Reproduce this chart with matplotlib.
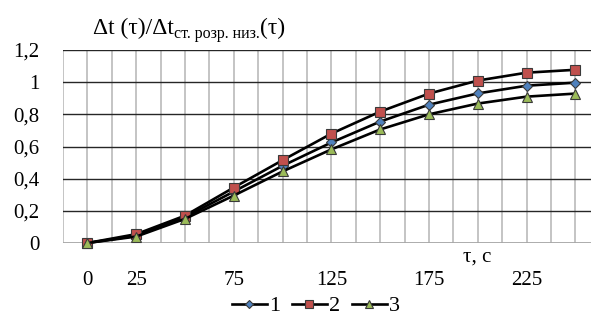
import matplotlib
matplotlib.use("Agg")
import matplotlib.pyplot as plt
from matplotlib.lines import Line2D
import numpy as np

tau = [0, 25, 50, 75, 100, 125, 150, 175, 200, 225, 250]
s1 = [0, 0.045, 0.16, 0.32, 0.48, 0.625, 0.755, 0.86, 0.93, 0.978, 0.997]
s2 = [0, 0.055, 0.17, 0.345, 0.515, 0.68, 0.817, 0.929, 1.01, 1.059, 1.077]
s3 = [0, 0.04, 0.15, 0.295, 0.445, 0.582, 0.706, 0.80, 0.867, 0.91, 0.929]
series_names = ["1", "2", "3"]
xtick_vals = [0, 25, 75, 125, 175, 225]
ytick_vals = [0, 0.2, 0.4, 0.6, 0.8, 1.0, 1.2]
ytick_labels = ["0", "0,2", "0,4", "0,6", "0,8", "1", "1,2"]

plt.rcParams['font.family'] = ['Liberation Serif', 'DejaVu Serif']

fig = plt.figure(figsize=(5.91, 3.2), dpi=100)
ax = fig.add_axes([63/591, (320-243)/320, 1 - 63/591, (243-50)/320])
ax.set_xlim(-12.5, 258)
ax.set_ylim(0, 1.2)

for xv in np.arange(-12.5, 260, 12.5):
    ax.axvline(xv, color='#BFBFBF', lw=1.3, zorder=1)
for yv in ytick_vals[1:]:
    ax.axhline(yv, color='#262626', lw=1.0, zorder=1)
ax.axhline(0, color='#A6A6A6', lw=1.3, zorder=1)

for s in ax.spines.values():
    s.set_visible(False)

styles = [
    dict(marker='D', mfc='#4F81BD', ms=5),
    dict(marker='s', mfc='#C0504D', ms=7),
    dict(marker='^', mfc='#9BBB59', ms=6.5),
]
for data, st in zip([s1, s2, s3], styles):
    ax.plot(tau, data, color='black', lw=1.9, marker=st['marker'], mfc=st['mfc'],
            mec='#3a3a3a', mew=0.8, ms=st['ms'], zorder=3, clip_on=False)

ax.set_xticks(xtick_vals)
ax.set_xticklabels([str(v) for v in xtick_vals], fontsize=15)
ax.set_yticks(ytick_vals)
ax.set_yticklabels(ytick_labels, fontsize=15)
ax.tick_params(axis='x', length=0, pad=20)
ax.tick_params(axis='y', length=0, pad=17)

t1 = fig.text(93/591, 1 - 28/320, "Δt (τ)/Δt", ha='left', va='center', fontsize=17)
fig.canvas.draw()
bb = t1.get_window_extent()
sub = fig.text(bb.x1 / 591, 1 - 34/320, "ст. розр. низ.", ha='left', va='center', fontsize=11.5)
fig.canvas.draw()
bb2 = sub.get_window_extent()
fig.text(bb2.x1 / 591, 1 - 28/320, "(τ)", ha='left', va='center', fontsize=17)

fig.text(477/591, 1 - 257/320, "τ, с", ha='center', va='center', fontsize=15)

handles = [Line2D([0], [0], color='black', lw=1.9, marker=st['marker'], mfc=st['mfc'],
                  mec='#3a3a3a', mew=0.8, ms=st['ms'] * 0.85) for st in styles]
fig.legend(handles, series_names, loc='center', bbox_to_anchor=(316/591, 1 - 306/320),
           ncol=3, frameon=False, fontsize=16, handlelength=1.6, handletextpad=0.1,
           columnspacing=0.5, borderaxespad=0, borderpad=0)

fig.savefig("out.png", dpi=100)
